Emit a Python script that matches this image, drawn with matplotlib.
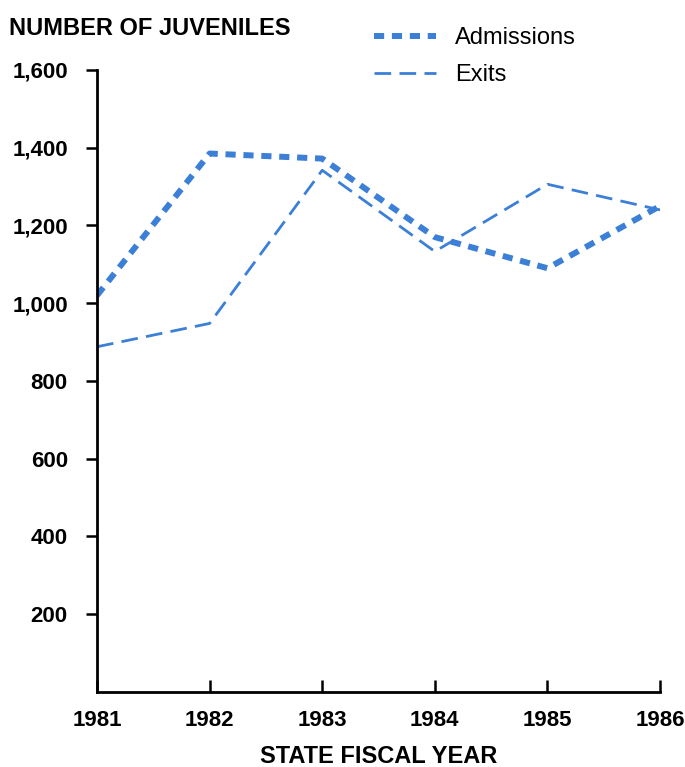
import matplotlib.pyplot as plt

years = [1981, 1982, 1983, 1984, 1985, 1986]
admissions = [1020, 1385, 1372, 1170, 1090, 1250]
exits = [888, 948, 1342, 1133, 1306, 1240]
y_ticks = [200, 400, 600, 800, 1000, 1200, 1400, 1600]

plt.rcParams['font.family'] = ['Liberation Sans', 'DejaVu Sans']

blue = '#3b7fd6'

fig = plt.figure(figsize=(6.85, 7.67), dpi=100)
ax = fig.add_axes([0.1416, 0.0978, 0.822, 0.811])

ax.plot(years, admissions, color=blue, lw=4.3, dashes=(1.7, 1.3), label='Admissions')
ax.plot(years, exits, color=blue, lw=2.0, dashes=(6, 3), label='Exits')

ax.set_xlim(1981, 1986)
ax.set_ylim(0, 1600)
ax.set_xticks(years)
ax.set_yticks(y_ticks)
ax.set_yticklabels([f'{v:,}' for v in y_ticks])

for s in ['top', 'right']:
    ax.spines[s].set_visible(False)
for s in ['left', 'bottom']:
    ax.spines[s].set_linewidth(2)

ax.tick_params(axis='y', direction='out', length=8, width=1.8, pad=13, labelsize=16)
ax.tick_params(axis='x', direction='in', length=9, width=1.8, pad=13, labelsize=16)
for lbl in ax.get_xticklabels() + ax.get_yticklabels():
    lbl.set_fontweight('bold')

ax.set_xlabel('STATE FISCAL YEAR', fontsize=17, fontweight='bold', labelpad=10)
fig.text(0.013, 0.963, 'NUMBER OF JUVENILES', fontsize=17, fontweight='bold',
         va='center', ha='left')

ax.legend(loc='upper left', bbox_to_anchor=(0.455, 1.103), frameon=False,
          fontsize=17, handlelength=2.6, handletextpad=0.8, labelspacing=0.62)

fig.savefig('out.png', dpi=100)
